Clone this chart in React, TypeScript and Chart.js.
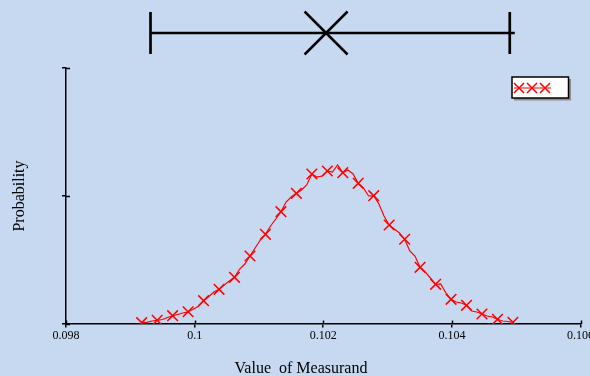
import React, { useEffect, useRef } from "react";
import { Chart, registerables } from "chart.js";

Chart.register(...registerables);

// ---- data ----
const lineX = [
  0.099177, 0.099257, 0.099337, 0.099418, 0.099498, 0.099578, 0.099658, 0.099738, 0.099818,
  0.099899, 0.099979, 0.100059, 0.100139, 0.100219, 0.100299, 0.10038, 0.10046, 0.10054,
  0.10062, 0.1007, 0.100781, 0.100861, 0.100941, 0.101021, 0.101101, 0.101181, 0.101262,
  0.101342, 0.101422, 0.101502, 0.101582, 0.101662, 0.101743, 0.101823, 0.101903, 0.101983,
  0.102063, 0.102143, 0.102224, 0.102304, 0.102384, 0.102464, 0.102544, 0.102624, 0.102705,
  0.102785, 0.102865, 0.102945, 0.103025, 0.103105, 0.103186, 0.103266, 0.103346, 0.103426,
  0.103506, 0.103586, 0.103667, 0.103747, 0.103827, 0.103907, 0.103987, 0.104067, 0.104148,
  0.104228, 0.104308, 0.104388, 0.104468, 0.104548, 0.104629, 0.104709, 0.104789, 0.104869,
  0.104949,
];
const lineY = [
  0.0051, 0.0066, 0.0117, 0.0145, 0.0176, 0.0254, 0.0324, 0.0371, 0.043,
  0.048, 0.0574, 0.0691, 0.091, 0.1066, 0.125, 0.1355, 0.1523, 0.168,
  0.1824, 0.2148, 0.2344, 0.2656, 0.2969, 0.3281, 0.3504, 0.3828, 0.4102,
  0.4387, 0.4766, 0.4961, 0.5105, 0.5234, 0.543, 0.5859, 0.5742, 0.5781,
  0.5977, 0.5938, 0.6211, 0.591, 0.6016, 0.5859, 0.5496, 0.5313, 0.5,
  0.5012, 0.4688, 0.4219, 0.3867, 0.3711, 0.3555, 0.3309, 0.2852, 0.2656,
  0.2215, 0.2031, 0.1797, 0.1551, 0.1563, 0.1211, 0.0965, 0.0859, 0.082,
  0.073, 0.0508, 0.0469, 0.0391, 0.0313, 0.0273, 0.0184, 0.0117, 0.0098,
  0.0066,
];
const markerEvery = 3;

const xTicks = [0.098, 0.1, 0.102, 0.104, 0.106];
const xTickLabels = ["0.098", "0.1", "0.102", "0.104", "0.106"];
const yTicks = [0, 0.5, 1];

const errLow = 0.099314;
const errMean = 0.102044;
const errHigh = 0.1049;

const xTitle = "Value  of Measurand";
const yTitle = "Probability";

const BG = "#C6D9F1";
const RED = "#FF0000";
const FONT = "Liberation Serif";

function drawCross(ctx: CanvasRenderingContext2D, x: number, y: number, h: number) {
  ctx.beginPath();
  ctx.moveTo(x - h, y - h);
  ctx.lineTo(x + h, y + h);
  ctx.moveTo(x + h, y - h);
  ctx.lineTo(x - h, y + h);
  ctx.stroke();
}

const bgPlugin = {
  id: "bgFill",
  beforeDraw(chart: any) {
    const c = chart.ctx;
    c.save();
    c.fillStyle = BG;
    c.fillRect(0, 0, chart.width, chart.height);
    c.restore();
  },
};

const decoPlugin = {
  id: "deco",
  afterDraw(chart: any) {
    const ctx: CanvasRenderingContext2D = chart.ctx;
    const xs = chart.scales.x;
    const ys = chart.scales.y;
    const { left, bottom } = chart.chartArea;
    ctx.save();
    ctx.strokeStyle = "#000";
    ctx.lineWidth = 1.5;
    // inner halves of the crossing tick marks
    xTicks.forEach((v) => {
      const px = Math.round(xs.getPixelForValue(v)) + 0.5;
      ctx.beginPath();
      ctx.moveTo(px, bottom);
      ctx.lineTo(px, bottom - 3.5);
      ctx.stroke();
    });
    yTicks.forEach((v) => {
      const py = Math.round(ys.getPixelForValue(v)) + 0.5;
      ctx.beginPath();
      ctx.moveTo(left, py);
      ctx.lineTo(left + 4, py);
      ctx.stroke();
    });

    // error bar at top
    const y0 = 33;
    const pl = xs.getPixelForValue(errLow);
    const ph = xs.getPixelForValue(errHigh);
    const pm = xs.getPixelForValue(errMean);
    ctx.lineWidth = 2.7;
    ctx.beginPath();
    ctx.moveTo(pl, y0);
    ctx.lineTo(ph + 5, y0);
    ctx.moveTo(pl, y0 - 21);
    ctx.lineTo(pl, y0 + 21);
    ctx.moveTo(ph, y0 - 21);
    ctx.lineTo(ph, y0 + 21);
    ctx.stroke();
    ctx.lineWidth = 2.5;
    drawCross(ctx, pm, y0, 21.5);

    // legend box
    ctx.fillStyle = "#8c8c8c";
    ctx.fillRect(514, 79, 57, 21.5);
    ctx.fillStyle = "#FFFFFF";
    ctx.fillRect(512, 77, 56.5, 21);
    ctx.strokeStyle = "#000";
    ctx.lineWidth = 1.5;
    ctx.strokeRect(512, 77, 56.5, 21);
    ctx.strokeStyle = RED;
    ctx.lineWidth = 1.2;
    ctx.beginPath();
    ctx.moveTo(514, 88);
    ctx.lineTo(551, 88);
    ctx.stroke();
    ctx.lineWidth = 1.5;
    [519, 532, 545].forEach((cx) => drawCross(ctx, cx, 88, 5));

    // x axis title
    ctx.fillStyle = "#000";
    ctx.font = `16px "${FONT}"`;
    ctx.textAlign = "center";
    ctx.textBaseline = "alphabetic";
    ctx.fillText(xTitle, 301, 373);
    ctx.restore();
  },
};

export default function App() {
  const ref = useRef<HTMLCanvasElement | null>(null);
  useEffect(() => {
    document.body.style.margin = "0";
    document.body.style.background = BG;
    if (!ref.current) return;
    const chart = new Chart(ref.current, {
      type: "line",
      data: {
        datasets: [
          {
            data: lineX.map((x, i) => ({ x, y: lineY[i] })),
            borderColor: RED,
            borderWidth: 1.2,
            pointStyle: "crossRot",
            pointRadius: (c: any) => (c.dataIndex % markerEvery === 0 ? 7.5 : 0),
            pointHoverRadius: 0,
            pointBorderColor: RED,
            pointBorderWidth: 1.5,
            tension: 0,
            fill: false,
          },
        ],
      },
      options: {
        responsive: false,
        animation: false,
        layout: { padding: { top: 68, right: 9.5, bottom: 24, left: 0 } },
        plugins: { legend: { display: false }, tooltip: { enabled: false } },
        scales: {
          x: {
            type: "linear",
            min: xTicks[0],
            max: xTicks[xTicks.length - 1],
            afterBuildTicks: (s: any) => {
              s.ticks = xTicks.map((v) => ({ value: v }));
            },
            afterFit: (s: any) => {
              s.height = 28;
              s.paddingLeft = 0;
              s.paddingRight = 0;
            },
            ticks: {
              callback: (_v: any, i: number) => xTickLabels[i],
              color: "#000",
              font: { family: FONT, size: 12 },
              padding: 1,
              maxRotation: 0,
              autoSkip: false,
            },
            grid: { drawOnChartArea: false, drawTicks: true, tickLength: 3.5, color: "#000", lineWidth: 1.5 },
            border: { color: "#000", width: 1.5 },
          },
          y: {
            type: "linear",
            min: yTicks[0],
            max: yTicks[yTicks.length - 1],
            afterBuildTicks: (s: any) => {
              s.ticks = yTicks.map((v) => ({ value: v }));
            },
            afterFit: (s: any) => {
              s.width = 66;
            },
            ticks: { display: false },
            grid: { drawOnChartArea: false, drawTicks: true, tickLength: 4, color: "#000", lineWidth: 1.5 },
            border: { color: "#000", width: 1.5 },
            title: {
              display: true,
              text: yTitle,
              color: "#000",
              font: { family: FONT, size: 16 },
              padding: { top: 10, bottom: 0 },
            },
          },
        },
      },
      plugins: [bgPlugin, decoPlugin],
    } as any);
    return () => chart.destroy();
  }, []);
  return (
    <div style={{ width: 590, height: 376 }}>
      <canvas ref={ref} width={590} height={376} style={{ display: "block" }} />
    </div>
  );
}
